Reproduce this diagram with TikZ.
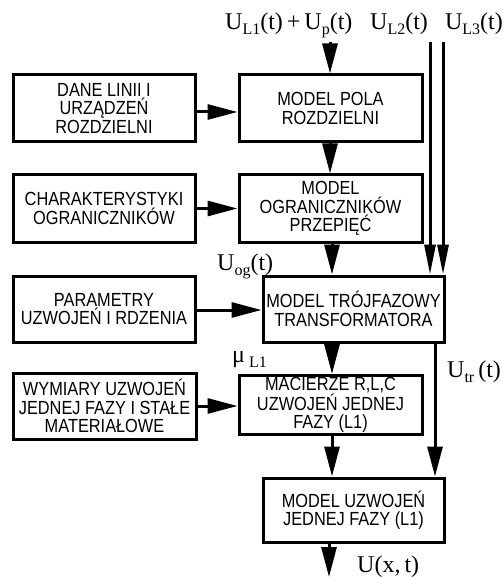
\documentclass[tikz,border=0pt]{standalone}
\usepackage{fontspec}
\usetikzlibrary{arrows.meta,calc}
\newfontfamily\boxfont[FakeStretch=0.86]{Liberation Sans}
\newfontfamily\lblfont{Liberation Serif}
\newcommand\lsub[1]{\raisebox{-5pt}{\fontsize{16}{16}\selectfont #1}}
\begin{document}
\begin{tikzpicture}[x=1pt,y=-1pt,
  blk/.style={draw, line width=3pt, inner sep=0pt, align=center,
    font=\boxfont\fontsize{19}{18.3}\selectfont},
  arr/.style={line width=3pt, -{Triangle[length=30pt,width=15pt]}},
  arrn/.style={line width=3pt, -{Triangle[length=30pt,width=11pt]}},
  lbl/.style={inner sep=0pt, anchor=base west, font=\lblfont\fontsize{24}{24}\selectfont}]
\useasboundingbox (0,0) rectangle (503,577);
% boxes
\node[blk, minimum width=182pt, minimum height=67pt] (dane) at (104,108.5) {DANE LINII I\\URZĄDZEŃ\\ROZDZIELNI};
\node[blk, minimum width=183pt, minimum height=67pt] (pola) at (330.5,108.5) {MODEL POLA\\ROZDZIELNI};
\node[blk, minimum width=182pt, minimum height=67pt] (char) at (104,208.5) {CHARAKTERYSTYKI\\OGRANICZNIKÓW};
\node[blk, minimum width=183pt, minimum height=67pt] (ogr) at (330.5,208.5) {MODEL\\OGRANICZNIKÓW\\PRZEPIĘĆ};
\node[blk, minimum width=182pt, minimum height=66pt] (par) at (104,309) {PARAMETRY\\UZWOJEŃ I RDZENIA};
\node[blk, minimum width=181pt, minimum height=66pt] (trf) at (353.5,309) {MODEL TRÓJFAZOWY\\TRANSFORMATORA};
\node[blk, minimum width=183pt, minimum height=66pt] (wym) at (104.5,406) {WYMIARY UZWOJEŃ\\JEDNEJ FAZY I STAŁE\\MATERIAŁOWE};
\node[blk, minimum width=183pt, minimum height=59pt] (mac) at (330.5,405) {MACIERZE R,L,C\\UZWOJEŃ JEDNEJ\\FAZY (L1)};
\node[blk, minimum width=181pt, minimum height=64pt] (uzw) at (353.5,510) {MODEL UZWOJEŃ\\JEDNEJ FAZY (L1)};
% helper coordinates
\coordinate (in1) at (330,42);
\coordinate (in2) at (430,42);
\coordinate (in3) at (443,42);
\coordinate (mx) at (332,0);
\coordinate (trx) at (435,0);
\coordinate (out) at (329,577);
% horizontal arrows
\draw[arr] ([yshift=-3.5pt]dane.east) -- ([yshift=-3.5pt]dane.east -| pola.west);
\draw[arr] (char.east) -- (char.east -| ogr.west);
\draw[arr] ([yshift=-1pt]par.east) -- ([yshift=-1pt]par.east -| trf.west);
\draw[arr] (wym.east) -- (wym.east -| mac.west);
% vertical arrows
\draw[arr] (in1) -- (in1 |- pola.north);
\draw[arr] (in1 |- pola.south) -- (in1 |- ogr.north);
\draw[arr] (mx |- ogr.south) -- (mx |- trf.north);
\draw[arr] (mx |- trf.south) -- (mx |- mac.north);
\draw[arr] (mx |- mac.south) -- (mx |- uzw.north);
\draw[arrn] (in2) -- (in2 |- trf.north);
\draw[arrn] (in3) -- (in3 |- trf.north);
\draw[arr] (trx |- trf.south) -- (trx |- uzw.north);
\draw[arr] (out |- uzw.south) -- (out);
% labels
\node[lbl] (l1) at (225,30) {U\lsub{L1}(t)\,+\,U\lsub{p}(t)};
\node[lbl] (l2) at (370,30) {U\lsub{L2}(t)};
\node[lbl, anchor=base east] (l3) at (503,30) {U\lsub{L3}(t)};
\node[lbl] (log) at (217,270) {U\lsub{og}(t)};
\node[lbl] (lmu) at (232,362) {μ\,\lsub{L1}};
\node[lbl] (ltr) at (447,377) {U\lsub{tr}\,(t)};
\node[lbl] (lux) at (357,572) {U(x,\,t)};
\end{tikzpicture}
\end{document}
